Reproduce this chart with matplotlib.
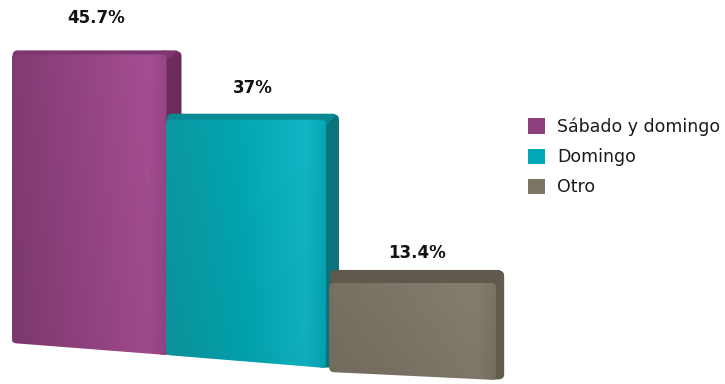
import numpy as np
import matplotlib
matplotlib.use("Agg")
import matplotlib.pyplot as plt
from matplotlib.patches import Polygon, Patch
from matplotlib.colors import LinearSegmentedColormap

# survey shares
categories = ["Sábado y domingo", "Domingo", "Otro"]
values = [45.7, 37.0, 13.4]
value_labels = ["45.7%", "37%", "13.4%"]

# colours: legend swatch, front gradient (left, mid, highlight, right edge), side, top
swatch = ["#8e3f7e", "#00a9b8", "#7d7563"]
front = [
    ["#813b72", "#964585", "#a64d93", "#974587"],
    ["#0c98a1", "#02a8b3", "#12b6c5", "#06a6b4"],
    ["#787061", "#7f7769", "#857d6e", "#7b7365"],
]
side = ["#6c2c5e", "#0a737b", "#625b4e"]
top_col = ["#7e3670", "#098a93", "#5e594c"]

# layout (bar centres in axis units, sizes in pixels)
bar_x = [0.0, 0.97, 2.0]
bar_w_px = [155, 160, 167]
depth_px = [15, 13, 8]
topface_px = [4, 6, 13]
label_gap_px = [23, 17, 8]
drop_px = [0, 12, 29]     # each bar sits lower (perspective)
tilt_px = [12, 13, 8]     # bottom edge drops towards the right
floor = 3.9               # bars start this far below zero

fig = plt.figure(figsize=(7.25, 3.84), dpi=100)
ax = fig.add_axes([0, 0, 1, 1])
ax.set_xlim(-0.55, 3.93)
ax.set_ylim(-10.85, 54.24)
ax.set_autoscale_on(False)
ax.axis("off")

sx = 725 / (3.93 + 0.55)
sy = 384 / (54.24 + 10.85)


def rounded(pts, r_px):
    P = np.asarray(pts, float) * [sx, sy]
    out = []
    n = len(P)
    t = np.linspace(0, 1, 8)[:, None]
    for k in range(n):
        p, a, b = P[k], P[k - 1], P[(k + 1) % n]
        la, lb = np.linalg.norm(a - p), np.linalg.norm(b - p)
        rr = min(r_px, 0.45 * la, 0.45 * lb)
        p0 = p + (a - p) / la * rr
        p1 = p + (b - p) / lb * rr
        out.extend((1 - t) ** 2 * p0 + 2 * (1 - t) * t * p + t ** 2 * p1)
    return np.array(out) / [sx, sy]


for i, v in enumerate(values):
    z = 2 + i * 3
    w = bar_w_px[i] / sx
    d = depth_px[i] / sx
    xl, xr = bar_x[i] - w / 2, bar_x[i] + w / 2
    base = -floor - drop_px[i] / sy
    top = v - drop_px[i] / sy
    yf = top - topface_px[i] / sy
    ybr = base - tilt_px[i] / sy

    # right side face, tucked under the front
    side_pts = [(xr - 8 / sx, top), (xr + d, top - 1 / sy),
                (xr + d, ybr + 1 / sy), (xr - 8 / sx, ybr)]
    ax.add_patch(Polygon(rounded(side_pts, 5), closed=True, facecolor=side[i],
                         edgecolor="none", zorder=z))

    # top face, running down behind the front
    top_pts = [(xl, yf - 6 / sy), (xl + 2 / sx, top), (xr + d - 2 / sx, top),
               (xr, yf - 6 / sy)]
    ax.add_patch(Polygon(rounded(top_pts, 4), closed=True, facecolor=top_col[i],
                         edgecolor="none", zorder=z + 1))

    # front face with shaded fill
    front_pts = [(xl, yf), (xr, yf), (xr, ybr), (xl, base)]
    face = Polygon(rounded(front_pts, 5), closed=True, facecolor="none",
                   edgecolor="none", zorder=z + 2)
    ax.add_patch(face)
    cmap = LinearSegmentedColormap.from_list(
        "f%d" % i, list(zip([0, 0.5, 0.88, 1.0], front[i])))
    gx = cmap(np.linspace(0, 1, 200))[:, :3]
    shade = np.linspace(1.0, 0.95, 100)[:, None, None]
    img = gx[None, :, :] * shade
    im = ax.imshow(img, extent=(xl, xr, ybr, yf), aspect="auto",
                   interpolation="bilinear", zorder=z + 2)
    im.set_clip_path(face)

    ax.text(bar_x[i] + d / 2, top + label_gap_px[i] / sy, value_labels[i],
            ha="center", va="bottom", fontsize=12, fontweight="bold",
            color="#111111", zorder=20)

handles = [Patch(facecolor=c, edgecolor="none") for c in swatch]
ax.legend(handles, categories, loc="center left", frameon=False,
          bbox_to_anchor=(521 / 725, 1 - 157 / 384), fontsize=12.5,
          handlelength=1.0, handleheight=1.0, handletextpad=0.7,
          labelspacing=0.7, borderaxespad=0, labelcolor="#1a1a1a")

fig.savefig("out.png", dpi=100, facecolor="white")
